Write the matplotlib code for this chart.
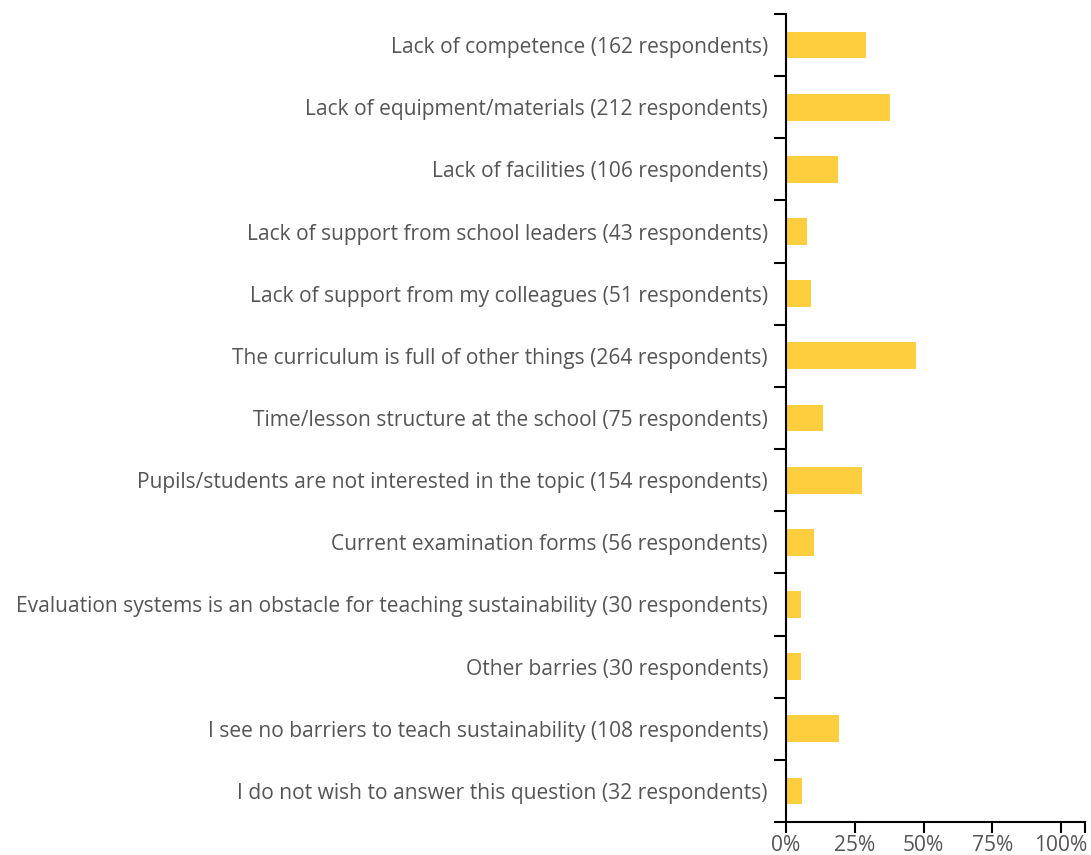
import matplotlib
matplotlib.use("Agg")
import matplotlib.pyplot as plt
import numpy as np

categories = [
    "Lack of competence",
    "Lack of equipment/materials",
    "Lack of facilities",
    "Lack of support from school leaders",
    "Lack of support from my colleagues",
    "The curriculum is full of other things",
    "Time/lesson structure at the school",
    "Pupils/students are not interested in the topic",
    "Current examination forms",
    "Evaluation systems is an obstacle for teaching sustainability",
    "Other barries",
    "I see no barriers to teach sustainability",
    "I do not wish to answer this question",
]
respondents = [162, 212, 106, 43, 51, 264, 75, 154, 56, 30, 30, 108, 32]
total_respondents = 560
x_ticks = [0, 25, 50, 75, 100]
x_tick_labels = ["0%", "25%", "50%", "75%", "100%"]

shares = [100.0 * n / total_respondents for n in respondents]
labels = [f"{c} ({n} respondents)" for c, n in zip(categories, respondents)]

W, H, DPI = 1091, 855, 100
fig = plt.figure(figsize=(W / DPI, H / DPI), dpi=DPI)
left, right, top, bottom = 786, 1085, 14, 822
ax = fig.add_axes([left / W, 1 - bottom / H, (right - left) / W, (bottom - top) / H])

text_color = "#555555"
font = "Open Sans"
fsize = 15.1

ypos = np.arange(len(categories))
ax.barh(ypos, shares, height=0.43, color="#FECE3E", zorder=2)

x_max = 108.7
ax.set_xlim(0, x_max)
ax.set_ylim(len(categories) - 0.5, -0.5)

for side in ["top", "right"]:
    ax.spines[side].set_visible(False)
for side in ["left", "bottom"]:
    ax.spines[side].set_linewidth(1.5)
    ax.spines[side].set_color("black")

# y axis: tick marks on band edges, labels at band centres
ax.set_yticks(np.arange(-0.5, len(categories), 1.0))
ax.set_yticklabels([])
ax.set_yticks(ypos, minor=True)
ax.set_yticklabels(labels, minor=True, fontsize=fsize, color=text_color, family=font)
ax.tick_params(axis="y", which="major", length=8.5, width=1.5, color="black")
ax.tick_params(axis="y", which="minor", length=0, pad=13)

# x axis: percentage ticks plus an outer tick at the end of the domain
ax.set_xticks(x_ticks + [x_max])
ax.set_xticklabels(x_tick_labels + [""], fontsize=fsize, color=text_color, family=font)
ax.tick_params(axis="x", which="major", length=8, width=1.5, color="black", pad=1)

fig.savefig("out.png", dpi=DPI)
